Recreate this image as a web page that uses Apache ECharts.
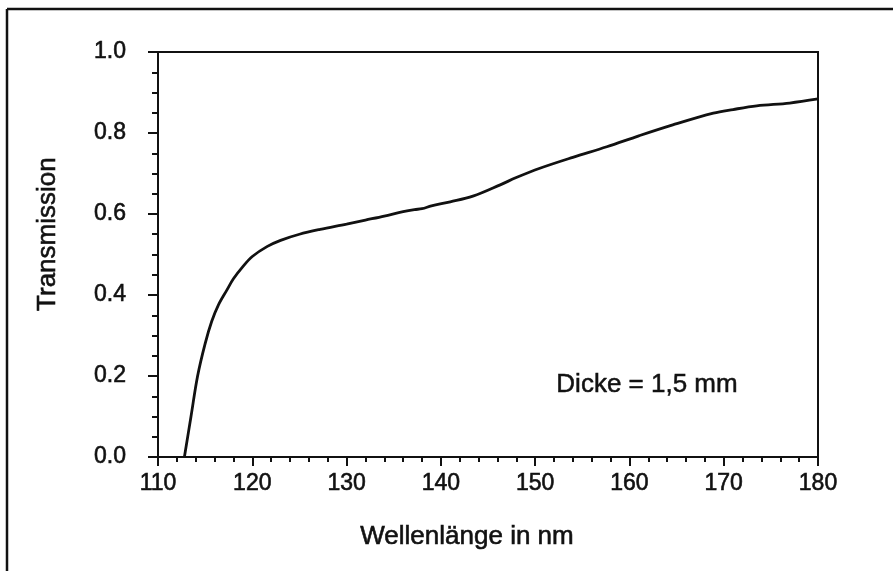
<!DOCTYPE html>
<html>
<head>
<meta charset="utf-8">
<script src="https://cdn.jsdelivr.net/npm/echarts@6/dist/echarts.min.js"></script>
<style>
  html, body { margin: 0; padding: 0; background: #fff; }
  #main { width: 893px; height: 571px; }
</style>
</head>
<body>
<div id="main"></div>
<script>
// Wellenlaenge (nm) und Transmission
const wavelength = [112.8, 113.5, 114.2, 115.0, 115.7, 116.4, 117.3, 118.0, 119.0, 120.0,
  121.6, 123.0, 125.0, 127.2, 130.0, 132.0, 134.0, 136.0, 137.2, 138.0, 139.0, 141.0,
  143.4, 146.3, 148.0, 150.5, 154.0, 157.6, 161.0, 164.6, 168.9, 171.0, 173.5, 177.0, 180.0];
const transmission = [0.0, 0.1, 0.2, 0.28, 0.335, 0.375, 0.412, 0.44, 0.47, 0.495,
  0.52, 0.535, 0.55, 0.562, 0.575, 0.585, 0.595, 0.606, 0.611, 0.613, 0.62, 0.63,
  0.644, 0.672, 0.69, 0.713, 0.74, 0.766, 0.793, 0.82, 0.849, 0.858, 0.867, 0.874, 0.884];
const xTicks = [110, 120, 130, 140, 150, 160, 170, 180];
const yTicks = [0.0, 0.2, 0.4, 0.6, 0.8, 1.0];

const font = 'Liberation Sans, Arial, Helvetica, sans-serif';
const ink = '#111';

var myChart = echarts.init(document.getElementById('main'));

const option = {
  animation: false,
  backgroundColor: '#fff',
  grid: {
    left: 158, right: 75, top: 52, bottom: 114,
    show: true, borderColor: ink, borderWidth: 2
  },
  xAxis: {
    type: 'value',
    min: xTicks[0],
    max: xTicks[xTicks.length - 1],
    interval: 10,
    axisLine: { show: true, lineStyle: { color: ink, width: 2 } },
    axisTick: { show: true, inside: false, length: 9, lineStyle: { color: ink, width: 2 } },
    minorTick: { show: true, splitNumber: 5, length: 5, lineStyle: { color: ink, width: 2 } },
    splitLine: { show: false },
    axisLabel: {
      color: ink, fontFamily: font, fontSize: 23, margin: 15,
      textBorderColor: ink, textBorderWidth: 0.6
    }
  },
  yAxis: {
    type: 'value',
    min: yTicks[0],
    max: yTicks[yTicks.length - 1],
    interval: 0.2,
    axisLine: { show: true, lineStyle: { color: ink, width: 2 } },
    axisTick: { show: true, inside: false, length: 10, lineStyle: { color: ink, width: 2 } },
    minorTick: { show: true, splitNumber: 4, length: 6, lineStyle: { color: ink, width: 2 } },
    splitLine: { show: false },
    axisLabel: {
      color: ink, fontFamily: font, fontSize: 23, margin: 32,
      textBorderColor: ink, textBorderWidth: 0.6,
      formatter: v => v.toFixed(1)
    }
  },
  series: [{
    type: 'line',
    data: wavelength.map((w, i) => [w, transmission[i]]),
    smooth: 0.35,
    showSymbol: false,
    lineStyle: { color: ink, width: 2.8 }
  }],
  graphic: [
    // aeusserer Rahmen (links und oben)
    { type: 'line', shape: { x1: 7, y1: 9, x2: 7, y2: 571 }, style: { stroke: ink, lineWidth: 2.5 } },
    { type: 'line', shape: { x1: 7, y1: 9, x2: 893, y2: 9 }, style: { stroke: ink, lineWidth: 2.5 } },
    {
      type: 'text', left: 35, top: 157, rotation: Math.PI / 2,
      style: { text: 'Transmission', fill: ink, font: '26px ' + font, stroke: ink, lineWidth: 0.6 }
    },
    {
      type: 'text', x: 467, y: 537,
      style: { text: 'Wellenlänge in nm', fill: ink, font: '26px ' + font, textAlign: 'center', textVerticalAlign: 'middle', stroke: ink, lineWidth: 0.6 }
    },
    {
      type: 'text', x: 647, y: 385,
      style: { text: 'Dicke = 1,5 mm', fill: ink, font: '26px ' + font, textAlign: 'center', textVerticalAlign: 'middle', stroke: ink, lineWidth: 0.5 }
    }
  ]
};

myChart.setOption(option);
</script>
</body>
</html>
